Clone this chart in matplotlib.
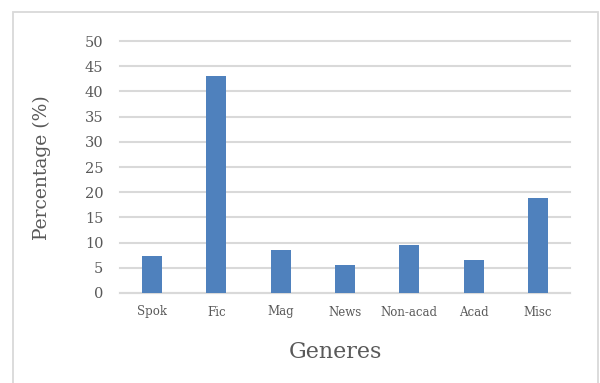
import matplotlib
matplotlib.use("Agg")
import matplotlib.pyplot as plt
from matplotlib.patches import Rectangle
import numpy as np

generos = ["Spok", "Fic", "Mag", "News", "Non-acad", "Acad", "Misc"]
percentuais = [7.4, 43.1, 8.5, 5.5, 9.6, 6.5, 18.8]
ticksY = [0, 5, 10, 15, 20, 25, 30, 35, 40, 45, 50]

corBarra = "#4f81bd"
corTexto = "#595959"
corGrade = "#d9d9d9"

plt.rcParams["font.family"] = ["DejaVu Serif", "Liberation Serif"]

fig = plt.figure(figsize=(6.0, 3.83), dpi=100)
ax = fig.add_axes([120 / 600, 1 - 293 / 383, 450 / 600, 252 / 383])

x = np.arange(len(generos))
ax.bar(x, percentuais, width=0.31, color=corBarra, zorder=3)

ax.set_xlim(-0.5, len(generos) - 0.5)
ax.set_ylim(0, 50)
ax.set_yticks(ticksY)
ax.set_xticks(x)
ax.set_xticklabels(generos)
ax.tick_params(axis="y", length=0, pad=12, labelsize=10.5, labelcolor=corTexto)
ax.tick_params(axis="x", length=0, pad=9, labelsize=8.5, labelcolor=corTexto)

ax.yaxis.grid(True, color=corGrade, linewidth=1.5, zorder=0)
for linha in ax.get_ygridlines():
    linha.set_clip_on(False)
for lado in ["top", "right", "left"]:
    ax.spines[lado].set_visible(False)
ax.spines["bottom"].set_color(corGrade)
ax.spines["bottom"].set_linewidth(1.5)

fig.text(42 / 600, 1 - 168 / 383, "Percentage (%)", rotation=90, ha="center", va="center",
         fontsize=13.5, color=corTexto)
fig.text(335 / 600, 1 - 352 / 383, "Generes", ha="center", va="center",
         fontsize=16, color=corTexto)

borda = Rectangle((13 / 600, -0.01), 585 / 600, 1 - 12 / 383 + 0.01, transform=fig.transFigure,
                  fill=False, edgecolor=corGrade, linewidth=1.3)
fig.patches.append(borda)

fig.savefig("out.png", dpi=100)
